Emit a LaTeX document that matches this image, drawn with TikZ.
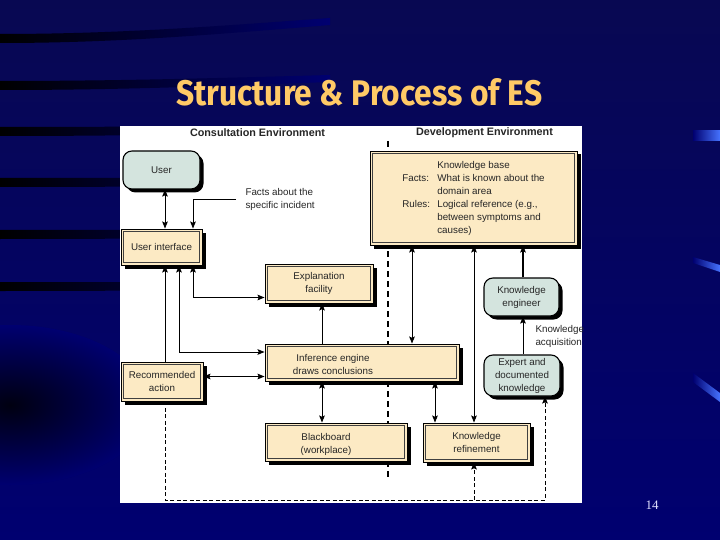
\documentclass[tikz,border=0pt]{standalone}
\usepackage{fontspec}
\setmainfont{Liberation Sans}
\newfontfamily\pagenumfont{Liberation Serif}
\newfontfamily\titlefont{Fira Sans}
\usetikzlibrary{arrows.meta,shadows}
\definecolor{navy}{RGB}{0,0,112}
\definecolor{navytop}{RGB}{8,8,82}
\definecolor{boxfill}{RGB}{252,234,196}
\definecolor{tealfill}{RGB}{212,228,222}
\definecolor{titlecol}{RGB}{255,202,102}
\definecolor{streak}{RGB}{70,115,255}
\begin{document}
\begin{tikzpicture}[x=1pt,y=-1pt,
  every node/.style={font=\fontsize{9.8}{13}\selectfont, text=black!85},
  boxshadow/.style={drop shadow={shadow xshift=3.5pt, shadow yshift=-3.5pt, fill=black, opacity=1}},
  beigebox/.style={rectangle, fill=boxfill, draw=black, line width=0.9pt, inner sep=0pt, align=center, boxshadow,
    path picture={\draw[draw=black!75, line width=0.6pt]
      ([shift={(2.6pt,-2.6pt)}]path picture bounding box.north west) rectangle
      ([shift={(-2.6pt,2.6pt)}]path picture bounding box.south east);}},
  tealbox/.style={rectangle, rounded corners=9pt, fill=tealfill, draw=black, line width=1.1pt,
    inner sep=0pt, align=center, boxshadow},
  tip/.tip={Stealth[length=7pt,width=5.6pt,inset=1.2pt]},
  conn/.style={line width=1pt, draw=black},
  arr/.style={conn, -tip},
  darr/.style={conn, tip-tip},
  dasharr/.style={line width=0.8pt, dash pattern=on 4pt off 2.5pt, -tip},
  divider/.style={line width=1.6pt, dash pattern=on 6pt off 4pt},
]
\useasboundingbox (0,0) rectangle (720,540);
% background
\shade[top color=navytop, bottom color=navy] (0,0) rectangle (720,540);
\shade[inner color=black!85!navy, outer color=navy] (10,405) ellipse [x radius=140pt, y radius=80pt];
\foreach \yy/\dy in {38/-16, 85/-6, 131/-2, 182/0, 234/0, 286/0}{
  \shade[left color=black, right color=navy]
    (0,{\yy-4}) .. controls (120,{\yy-4}) and (220,{\yy-4+\dy/2}) .. (330,{\yy-4+\dy})
    -- (330,{\yy+3+\dy}) .. controls (220,{\yy+4+\dy/2}) and (120,{\yy+5}) .. (0,{\yy+5}) -- cycle;
}
\shade[left color=navy, right color=streak] (693,131) -- (720,131) -- (720,141) -- (693,141) -- cycle;
\shade[left color=navy, right color=streak] (693,257) -- (720,265) -- (720,272) -- (693,263) -- cycle;
\shade[left color=navy, right color=streak] (693,373) -- (720,393) -- (720,402) -- (693,382) -- cycle;
% panel
\fill[white] (120,126) rectangle (582,503);
% title and page number
\node[anchor=base west, inner sep=0pt, text=titlecol] (title) at (176,106)
  {\resizebox{366pt}{27pt}{\titlefont\bfseries Structure \& Process of ES}};
\node[font=\pagenumfont\fontsize{13}{14}\selectfont, text=white!88!blue] (pagenum) at (652,505) {14};
% headers
\node[font=\bfseries\fontsize{10.8}{12}\selectfont] (consult) at (257.5,133) {Consultation Environment};
\node[font=\bfseries\fontsize{10.8}{12}\selectfont] (develop) at (484.5,133) {Development Environment};
% divider
\coordinate (divtop) at (388,141);
\coordinate (divbot) at (388,480);
\draw[divider] (divtop) -- (divbot);
% boxes
\node[tealbox, minimum width=77pt, minimum height=38pt] (user) at (161.5,170) {User};
\node[beigebox, minimum width=81pt, minimum height=36pt] (ui) at (161.5,247) {User interface};
\node[beigebox, minimum width=82pt, minimum height=39pt] (rec) at (162,381.5) {Recommended\\action};
\node[beigebox, minimum width=108pt, minimum height=39pt] (expl) at (319,283.5) {Explanation\\facility};
\node[beigebox, minimum width=194pt, minimum height=37pt] (inf) at (362,362.5) {};
\node[align=center] (inftext) at (333,364) {Inference engine\\draws conclusions};
\node[beigebox, minimum width=142pt, minimum height=38pt] (bb) at (336,442) {};
\node[align=center] (bbtext) at (326,444) {Blackboard\\(workplace)};
\node[beigebox, minimum width=107pt, minimum height=39pt] (kr) at (476.5,442.5) {Knowledge\\refinement};
\node[beigebox, minimum width=207pt, minimum height=94pt] (kb) at (473.5,198) {%
  \begin{tabular}{@{}p{35pt}@{}l@{}}
  \multicolumn{2}{@{}c@{}}{Knowledge base}\\
  Facts: & What is known about the\\
   & domain area\\
  Rules: & Logical reference (e.g.,\\
   & between symptoms and\\
   & causes)
  \end{tabular}};
\node[tealbox, minimum width=75pt, minimum height=38pt] (ke) at (521.5,297) {Knowledge\\engineer};
\node[tealbox, minimum width=76pt, minimum height=41pt] (expert) at (522,375.5) {Expert and\\documented\\knowledge};
% free labels
\node[anchor=west, align=left] (facts) at (242,199.5) {Facts about the\\specific incident};
\node[anchor=west, align=left] (kacq) at (532,336.5) {Knowledge\\acquisition};
% column / row helpers
\coordinate (c165) at (165,0);
\coordinate (c179) at (179,0);
\coordinate (c193) at (193,0);
\coordinate (c322) at (322,0);
\coordinate (c412) at (412,0);
\coordinate (c435) at (435,0);
\coordinate (c474) at (474,0);
\coordinate (c523) at (523,0);
\coordinate (c545) at (545,0);
\coordinate (r297) at (0,297.5);
\coordinate (r352) at (0,352);
\coordinate (r376) at (0,376.5);
\coordinate (r500) at (0,500);
\coordinate (fline) at (236,200);
% connectors
\draw[darr] (user.south -| c165) -- (ui.north -| c165);
\draw[arr] (fline) -| (ui.north -| c193);
\draw[arr] (rec.north -| c165) -- (ui.south -| c165);
\draw[darr] (ui.south -| c179) |- (inf.west |- r352);
\draw[darr] (ui.south -| c193) |- (expl.west |- r297);
\draw[darr] (rec.east |- r376) -- (inf.west |- r376);
\draw[arr] (inf.north -| c322) -- (expl.south -| c322);
\draw[darr] (inf.south -| c322) -- (bb.north -| c322);
\draw[darr] (kb.south -| c412) -- (inf.north -| c412);
\draw[darr] (kb.south -| c474) -- (kr.north -| c474);
\draw[darr] (inf.south -| c435) -- (kr.north -| c435);
\draw[arr, line width=1.3pt] (ke.north -| c523) -- (kb.south -| c523);
\draw[arr] (expert.north -| c523) -- (ke.south -| c523);
\draw[dasharr] (rec.south -| c165) |- (c545 |- r500) -- (expert.south -| c545);
\draw[dasharr] (c474 |- r500) -- (kr.south -| c474);
\end{tikzpicture}
\end{document}
